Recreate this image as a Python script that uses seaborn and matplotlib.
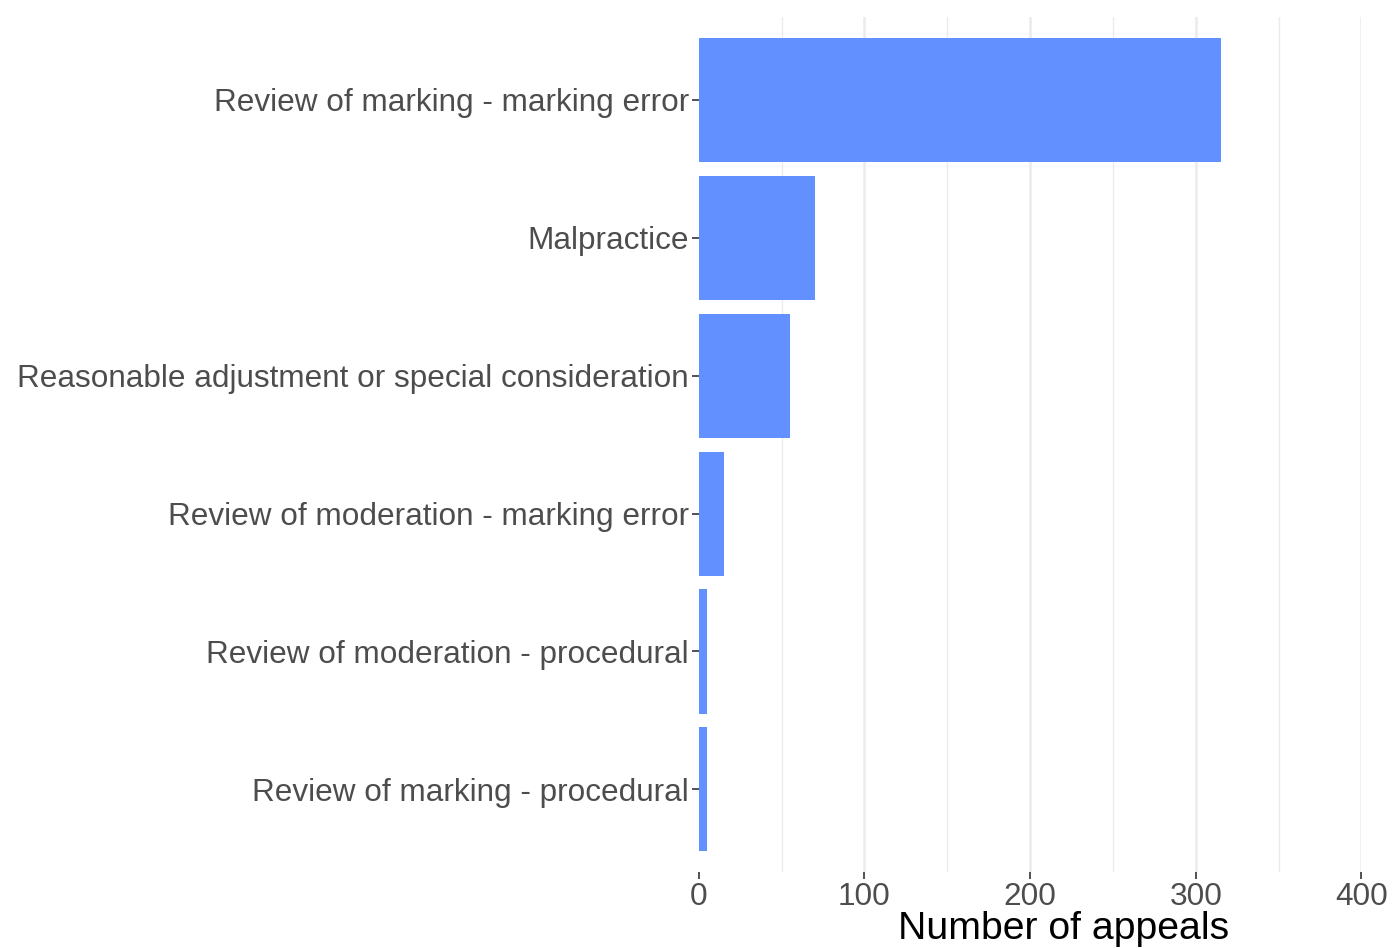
import seaborn as sns
import matplotlib.pyplot as plt
import pandas as pd

# appeal types, top to bottom
appeal_types = [
    "Review of marking - marking error",
    "Malpractice",
    "Reasonable adjustment or special consideration",
    "Review of moderation - marking error",
    "Review of moderation - procedural",
    "Review of marking - procedural",
]
n_appeals = [315, 70, 55, 15, 5, 5]
x_ticks = [0, 100, 200, 300, 400]
x_minor = [50, 150, 250, 350]

df = pd.DataFrame({"type": appeal_types, "appeals": n_appeals})

sns.set_theme(style="white")
plt.rcParams['font.family'] = ['Liberation Sans', 'DejaVu Sans']

fig = plt.figure(figsize=(13.92, 9.48), dpi=100)
ax = fig.add_axes([0.502, 0.080, 0.476, 0.902])

# grid first so the bars sit on top
for v in x_minor:
    ax.axvline(v, color='#EBEBEB', lw=1.0, zorder=0)
for v in x_ticks[1:]:
    ax.axvline(v, color='#EBEBEB', lw=1.8, zorder=0)

sns.barplot(data=df, x="appeals", y="type", order=appeal_types,
            color='#6290FF', saturation=1, width=0.9, orient='h', ax=ax,
            linewidth=0, edgecolor='none', zorder=2)

ax.set_xlim(0, 400)
ax.set_ylim(len(appeal_types) - 0.4, -0.6)
ax.set_xticks(x_ticks)
ax.set_ylabel("")
ax.set_xlabel("Number of appeals", fontsize=28.3, color='black', va='center')
ax.xaxis.set_label_coords(0.55, -0.066)

for s in ax.spines.values():
    s.set_visible(False)

ax.tick_params(axis='both', which='major', length=5, width=1.2,
               color='#333333', labelcolor='#4D4D4D', labelsize=22.7, pad=2,
               bottom=True, left=True)

fig.savefig("out.png", dpi=100)
